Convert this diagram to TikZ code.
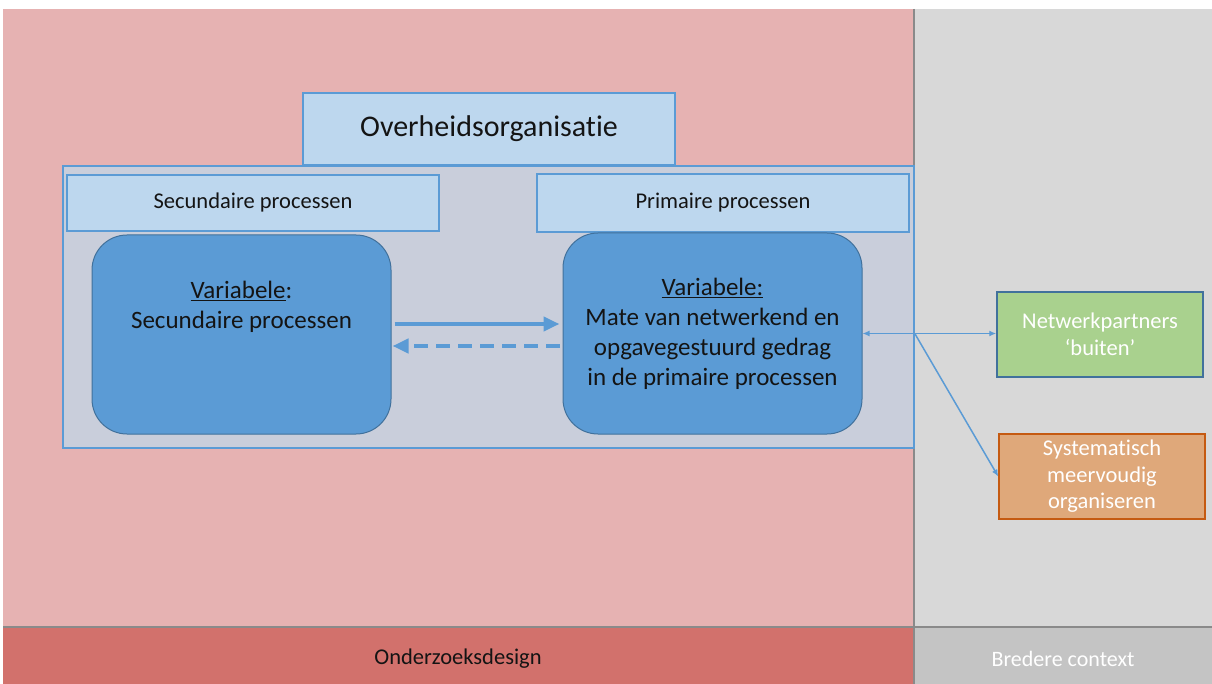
\documentclass[tikz,border=0pt]{standalone}
\usepackage{fontspec}
\setmainfont{Carlito}[Ligatures=NoCommon]
\usepackage{xcolor}
\usepackage{tikz}
\usetikzlibrary{positioning,arrows.meta}

\definecolor{rozevlak}{HTML}{E6B2B2}
\definecolor{grijsvlak}{HTML}{D8D8D8}
\definecolor{rozeband}{HTML}{D2716C}
\definecolor{grijsband}{HTML}{C4C4C4}
\definecolor{lijngrijs}{HTML}{8A8A8A}
\definecolor{lichtblauw}{HTML}{BDD7EE}
\definecolor{randblauw}{HTML}{5B9BD5}
\definecolor{orgvlakkleur}{HTML}{C9CEDB}
\definecolor{middenblauw}{HTML}{5B9BD5}
\definecolor{donkerblauw}{HTML}{41719C}
\definecolor{groen}{HTML}{A9D18E}
\definecolor{oranje}{HTML}{DFA87A}
\definecolor{oranjerand}{HTML}{C55A11}
\definecolor{tekst}{HTML}{141414}

\begin{document}
\begin{tikzpicture}[x=1pt, y=-1pt,
    kopvak/.style={draw=randblauw, line width=1.5pt, fill=lichtblauw, text=tekst, inner sep=0pt},
    variabele/.style={draw=donkerblauw, line width=1pt, fill=middenblauw, rounded corners=35pt,
        align=center, text=tekst, font=\fontsize{25}{30}\selectfont,
        minimum width=299pt, minimum height=200pt},
    extern/.style={line width=1.5pt, align=center, text=white, font=\fontsize{22.5}{26.5}\selectfont,
        minimum width=206pt, minimum height=85pt, inner sep=0pt},
    dikpijl/.style={draw=middenblauw, line width=4pt, -{Triangle[length=16pt,width=14pt]}},
    dunpijl/.style={draw=randblauw, line width=1.5pt, -{Latex[length=7pt,width=6pt]}}
]
    \useasboundingbox (0,0) rectangle (1212,684);

    % Achtergrond
    \fill[rozevlak] (3,9) rectangle (914,627);
    \fill[grijsvlak] (914,9) rectangle (1212,627);
    \fill[rozeband] (3,627) rectangle (914,684);
    \fill[grijsband] (914,627) rectangle (1212,684);
    \draw[lijngrijs, line width=1.5pt] (914,9) -- (914,684);
    \draw[lijngrijs, line width=1.5pt] (3,627) -- (1212,627);

    \node[text=tekst, font=\fontsize{22.5}{26}\selectfont] (design) at (458,659) {Onderzoeksdesign};
    \node[text=white, font=\fontsize{22}{26}\selectfont] (context) at (1063,659) {Bredere context};

    % Organisatie
    \node[draw=randblauw, line width=1.5pt, fill=orgvlakkleur, minimum width=851pt, minimum height=282pt]
        (orgvlak) at (488.5,307) {};
    \node[kopvak, minimum width=372pt, minimum height=72pt, font=\fontsize{30}{36}\selectfont]
        (org) at (489,129) {Overheidsorganisatie};
    \node[kopvak, minimum width=372pt, minimum height=56pt, font=\fontsize{22.5}{27}\selectfont]
        (seckop) at (253,203) {Secundaire processen};
    \node[kopvak, minimum width=372pt, minimum height=58pt, font=\fontsize{22.5}{27}\selectfont]
        (primkop) at (723,203) {Primaire processen};

    % Variabelen
    \node[variabele, minimum height=199pt] (lbox) at (241.5,334.5)
        {\underline{Variabele}:\\Secundaire processen\\~\\~};
    \node[variabele, minimum height=201pt] (rbox) at (712.5,333.5)
        {\underline{Variabele:}\\Mate van netwerkend en\\opgavegestuurd gedrag\\in de primaire processen};

    \coordinate (heen) at ([yshift=10.5pt]lbox.east);
    \coordinate (terug) at ([yshift=-11.5pt]lbox.east);
    \draw[dikpijl, shorten <=3pt, shorten >=3pt] (heen) -- (heen -| rbox.west);
    \draw[dikpijl, dash pattern=on 14pt off 8pt, shorten <=3pt, shorten >=1pt] (terug -| rbox.west) -- (terug);

    % Bredere context
    \node[extern, draw=donkerblauw, fill=groen] (netw) at (1100,334.5) {Netwerkpartners\\`buiten'};
    \node[extern, draw=oranjerand, fill=oranje] (sys) at (1102,476.5) {Systematisch\\meervoudig\\organiseren};

    \coordinate (splits) at (rbox.east -| orgvlak.east);
    \draw[dunpijl, {Latex[length=7pt,width=6pt]}-{Latex[length=7pt,width=6pt]}]
        (rbox.east) -- (rbox.east -| netw.west);
    \draw[dunpijl] (splits) -- (sys.west);
\end{tikzpicture}
\end{document}
